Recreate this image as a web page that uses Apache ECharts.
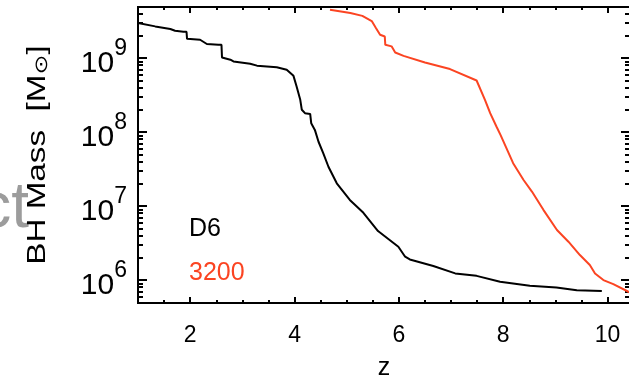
<!DOCTYPE html>
<html>
<head>
<meta charset="utf-8">
<script src="https://cdn.jsdelivr.net/npm/echarts@6/dist/echarts.min.js"></script>
<style>
  html, body { margin: 0; padding: 0; background: #fff; }
  #chart { width: 629px; height: 378px; }
</style>
</head>
<body>
<div id="chart"></div>
<script>
// Black hole mass growth versus redshift for two runs.
const zD6 = [1.00, 1.33, 1.62, 1.71, 1.87, 1.93, 1.94, 2.19, 2.32, 2.54, 2.60, 2.61, 2.77, 2.83, 3.15,
  3.28, 3.66, 3.85, 3.98, 4.04, 4.11, 4.14, 4.20, 4.30, 4.32, 4.39, 4.46, 4.55, 4.65, 4.81,
  5.06, 5.32, 5.60, 5.99, 6.12, 6.21, 6.66, 7.08, 7.49, 7.94, 8.51, 9.02, 9.41, 9.89];
const massD6 = [2.98e9, 2.68e9, 2.47e9, 2.34e9, 2.27e9, 2.27e9, 1.82e9, 1.77e9, 1.55e9, 1.51e9, 1.51e9, 1.02e9, 9.5e8, 9.0e8, 8.4e8,
  7.9e8, 7.5e8, 6.95e8, 5.75e8, 4.13e8, 2.73e8, 2.0e8, 1.80e8, 1.76e8, 1.32e8, 1.07e8, 7.4e7, 5.2e7, 3.4e7, 2.03e7,
  1.21e7, 8.1e6, 4.6e6, 2.82e6, 2.07e6, 1.9e6, 1.55e6, 1.23e6, 1.14e6, 9.5e5, 8.4e5, 7.96e5, 7.3e5, 7.1e5];

const z3200 = [4.68, 5.07, 5.30, 5.48, 5.56, 5.64, 5.73, 5.74, 5.86, 5.93, 6.09, 6.50, 6.98, 7.49, 7.65,
  7.75, 7.87, 7.95, 8.19, 8.39, 8.55, 8.77, 9.03, 9.25, 9.47, 9.66, 9.76, 9.92, 10.11, 10.40, 10.55];
const mass3200 = [4.51e9, 4.07e9, 3.72e9, 3.16e9, 2.55e9, 2.07e9, 1.96e9, 1.51e9, 1.44e9, 1.19e9, 1.07e9, 8.7e8, 7.1e8, 4.98e8, 2.73e8,
  1.80e8, 1.19e8, 9.1e7, 3.8e7, 2.25e7, 1.57e7, 8.9e6, 4.75e6, 3.3e6, 2.18e6, 1.6e6, 1.23e6, 1.0e6, 8.8e5, 6.95e5, 6.2e5];

const seriesNames = ['D6', '3200'];
const xTickLabels = [2, 4, 6, 8, 10];
const xMinorTicks = [1.5, 2.5, 3, 3.5, 4.5, 5, 5.5, 6.5, 7, 7.5, 8.5, 9, 9.5];
const yTickLabels = [1e6, 1e7, 1e8, 1e9];

const FONT = 'Liberation Sans';
const RED = '#fb4422';
const X_MIN = 1, X_MAX = 10.43;
const Y_MIN = 4.9e5, Y_MAX = 4.9e9;

// minor log ticks: 2..9 within every decade that falls in range
const yMinorTicks = [];
for (let d = 5; d <= 9; d++) {
  for (let k = 2; k <= 9; k++) {
    const v = k * Math.pow(10, d);
    if (v > Y_MIN && v < Y_MAX) yMinorTicks.push(v);
  }
}

const zip = (xs, ys) => xs.map((x, i) => [x, ys[i]]);

function xAxisDef(position, ticks, len, withLabels, extra) {
  return Object.assign({
    type: 'value', position, min: X_MIN, max: X_MAX,
    axisLine: { show: true, onZero: false, lineStyle: { color: '#000', width: 2 } },
    axisTick: { show: true, inside: true, length: len, customValues: ticks, lineStyle: { color: '#000', width: 2 } },
    axisLabel: withLabels ? {
      show: true, customValues: xTickLabels, margin: 21, color: '#000',
      fontFamily: FONT, fontSize: 23
    } : { show: false },
    splitLine: { show: false }
  }, extra || {});
}

function yAxisDef(position, ticks, len, withLabels) {
  return {
    type: 'log', logBase: 10, position, min: Y_MIN, max: Y_MAX,
    axisLine: { show: true, onZero: false, lineStyle: { color: '#000', width: 2 } },
    axisTick: { show: true, inside: true, length: len, customValues: ticks, lineStyle: { color: '#000', width: 2 } },
    axisLabel: withLabels ? {
      show: true, customValues: yTickLabels, margin: 11, color: '#000',
      formatter: v => '{b|10}{s|' + Math.round(Math.log10(v)) + '}',
      rich: {
        b: { fontFamily: FONT, fontSize: 30, lineHeight: 42, verticalAlign: 'bottom', color: '#000' },
        s: { fontFamily: FONT, fontSize: 23, lineHeight: 23, verticalAlign: 'top', color: '#000' }
      }
    } : { show: false },
    splitLine: { show: false }
  };
}

const chart = echarts.init(document.getElementById('chart'), null, { renderer: 'canvas' });

chart.setOption({
  animation: false,
  backgroundColor: '#fff',
  grid: { left: 138, top: 7, width: 492, height: 296, containLabel: false, outerBoundsMode: 'none' },
  xAxis: [
    xAxisDef('bottom', xTickLabels, 6, true, {
      name: 'z', nameLocation: 'middle', nameGap: 53,
      nameTextStyle: { fontFamily: FONT, fontSize: 25, color: '#000' }
    }),
    xAxisDef('bottom', xMinorTicks, 3, false),
    xAxisDef('top', xTickLabels, 6, false),
    xAxisDef('top', xMinorTicks, 3, false)
  ],
  yAxis: [
    yAxisDef('left', yTickLabels, 9, true),
    yAxisDef('left', yMinorTicks, 5, false),
    yAxisDef('right', yTickLabels, 9, false),
    yAxisDef('right', yMinorTicks, 5, false)
  ],
  legend: {
    orient: 'vertical', left: 184, top: 217, padding: 0,
    icon: 'none', itemWidth: 0, itemHeight: 0, itemGap: 19,
    selectedMode: false,
    textStyle: { fontFamily: FONT, fontSize: 25, lineHeight: 25 },
    data: [
      { name: seriesNames[0], textStyle: { color: '#000' } },
      { name: seriesNames[1], textStyle: { color: RED } }
    ]
  },
  graphic: [
    {
      type: 'text', x: 29, y: 209, z: 0, silent: true,
      style: { text: 'ct', fill: '#9c9c9c', font: '64px "Liberation Sans"', textAlign: 'right', textVerticalAlign: 'middle' }
    },
    {
      type: 'text', x: 36, y: 155, rotation: Math.PI / 2, scaleX: 1.33, z: 5, silent: true,
      style: {
        text: '{n|BH Mass  [M}{s|\u2299}{n|]}',
        textAlign: 'center', textVerticalAlign: 'middle', fill: '#000',
        rich: {
          n: { fontFamily: FONT, fontSize: 25, lineHeight: 30, verticalAlign: 'bottom', fill: '#000' },
          s: { fontFamily: 'DejaVu Sans', fontSize: 18, lineHeight: 16, verticalAlign: 'bottom', fill: '#000' }
        }
      }
    }
  ],
  series: [
    {
      name: seriesNames[0], type: 'line', xAxisIndex: 0, yAxisIndex: 0,
      data: zip(zD6, massD6), showSymbol: false, symbol: 'none', clip: true,
      lineStyle: { color: '#000', width: 2 }, itemStyle: { color: '#000' }
    },
    {
      name: seriesNames[1], type: 'line', xAxisIndex: 0, yAxisIndex: 0,
      data: zip(z3200, mass3200), showSymbol: false, symbol: 'none', clip: true,
      lineStyle: { color: RED, width: 2 }, itemStyle: { color: RED }
    }
  ]
});
</script>
</body>
</html>
